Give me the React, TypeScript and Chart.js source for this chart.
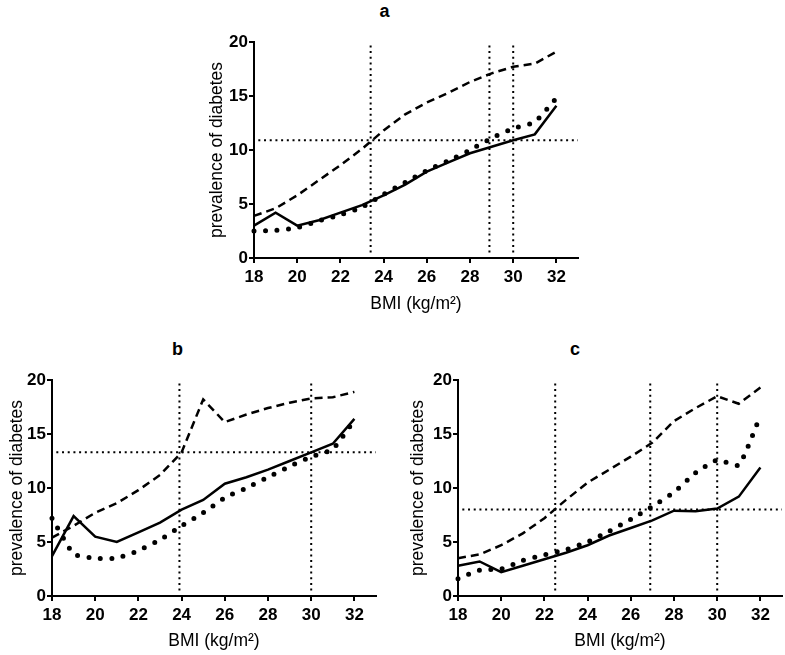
import React, { useEffect, useRef } from "react";
import { Chart, registerables } from "chart.js";

Chart.register(...registerables);

// ---- data ----
const bmi = [18, 19, 20, 21, 22, 23, 24, 25, 26, 27, 28, 29, 30, 31, 32];
const xTickValues = [18, 20, 22, 24, 26, 28, 30, 32];
const yTickValues = [0, 5, 10, 15, 20];

const aSolid = [3.0, 4.2, 3.0, 3.5, 4.2, 4.9, 5.8, 6.8, 8.0, 8.85, 9.7, 10.3, 10.9, 11.45, 14.1];
const aDotted = [2.5, 2.55, 2.8, 3.45, 4.0, 4.7, 5.9, 7.0, 8.1, 9.0, 10.0, 11.1, 12.0, 12.6, 14.8];
const aDashed = [3.9, 4.6, 5.8, 7.2, 8.6, 10.1, 11.8, 13.3, 14.4, 15.3, 16.3, 17.1, 17.7, 18.0, 19.1];
const aVLines = [23.4, 28.9, 30.0];
const aHLine = 10.9;

const bSolid = [3.7, 7.4, 5.5, 5.0, 5.9, 6.8, 8.0, 8.9, 10.4, 11.0, 11.7, 12.5, 13.3, 14.1, 16.4];
const bDotted = [7.2, 3.9, 3.5, 3.5, 4.2, 5.2, 6.5, 7.7, 9.1, 10.0, 11.0, 12.0, 12.9, 13.6, 16.3];
const bDashed = [5.4, 6.5, 7.7, 8.6, 9.8, 11.2, 13.3, 18.2, 16.1, 16.8, 17.4, 17.9, 18.3, 18.4, 18.9];
const bVLines = [23.9, 30.0];
const bHLine = 13.3;

const cSolid = [2.8, 3.2, 2.2, 2.8, 3.4, 4.0, 4.7, 5.6, 6.3, 7.0, 7.9, 7.85, 8.1, 9.2, 11.9];
const cDotted = [1.6, 2.4, 2.5, 3.3, 3.8, 4.3, 5.0, 6.0, 7.1, 8.3, 9.6, 11.4, 12.6, 12.1, 16.7];
const cDashed = [3.5, 3.85, 4.7, 5.8, 7.2, 8.9, 10.5, 11.7, 12.9, 14.2, 16.2, 17.4, 18.5, 17.8, 19.3];
const cVLines = [22.5, 26.9, 30.0];
const cHLine = 8.0;

const refVStart = 0.5;
const refVEnd = 20;
const refHStart = 18.2;
const refHEnd = 33;

const FONT = "'Liberation Sans', Arial, Helvetica, sans-serif";

type Spec = {
  title: string;
  solid: number[];
  dotted: number[];
  dashed: number[];
  vLines: number[];
  hLine: number;
  axisLeft: number;
  axisRight: number;
  axisTop: number;
  axisBottom: number;
  yTitleX: number;
  xTitleY: number;
  titleX: number;
  titleBaseline: number;
};

const specs: Spec[] = [
  {
    title: "a", solid: aSolid, dotted: aDotted, dashed: aDashed, vLines: aVLines, hLine: aHLine,
    axisLeft: 254, axisRight: 578, axisTop: 42, axisBottom: 258, yTitleX: 217, xTitleY: 304,
    titleX: 384.5, titleBaseline: 17,
  },
  {
    title: "b", solid: bSolid, dotted: bDotted, dashed: bDashed, vLines: bVLines, hLine: bHLine,
    axisLeft: 52, axisRight: 376, axisTop: 380, axisBottom: 596, yTitleX: 17.5, xTitleY: 641,
    titleX: 177.5, titleBaseline: 355,
  },
  {
    title: "c", solid: cSolid, dotted: cDotted, dashed: cDashed, vLines: cVLines, hLine: cHLine,
    axisLeft: 457.7, axisRight: 782, axisTop: 380, axisBottom: 596, yTitleX: 417.5, xTitleY: 641,
    titleX: 575, titleBaseline: 355,
  },
];

const TITLE_SIZE = 17.5;
const TITLE_LH = TITLE_SIZE * 1.2;

function Panel({ spec }: { spec: Spec }) {
  const ref = useRef<HTMLCanvasElement>(null);
  const left = spec.axisLeft - 110;
  const top = spec.axisTop - 15;
  const width = Math.round(spec.axisRight + 10 - left);
  const height = Math.round(spec.xTitleY + 18 - top);

  useEffect(() => {
    if (!ref.current) return;
    const yScaleLeft = spec.yTitleX - left - TITLE_LH / 2;
    const yW = 110 - yScaleLeft;
    const caBottom = spec.axisBottom - top;
    const xH = height - caBottom;
    const xTitlePad = height - TITLE_LH / 2 - (spec.xTitleY - top);

    const refDs: any[] = [];
    spec.vLines.forEach((v) => {
      refDs.push({
        data: [{ x: v, y: refVStart }, { x: v, y: refVEnd }],
        borderColor: "#000",
        borderWidth: 2,
        borderDash: [2, 3.7],
        pointRadius: 0,
        clip: false,
      });
    });
    refDs.push({
      data: [{ x: refHStart, y: spec.hLine }, { x: refHEnd, y: spec.hLine }],
      borderColor: "#000",
      borderWidth: 2,
      borderDash: [2, 3.7],
      pointRadius: 0,
      clip: false,
    });

    const toXY = (arr: number[]) => arr.map((y, i) => ({ x: bmi[i], y }));

    const chart = new Chart(ref.current, {
      type: "line",
      data: {
        datasets: [
          ...refDs,
          {
            data: toXY(spec.dashed),
            borderColor: "#000",
            borderWidth: 2.5,
            borderDash: [8, 5],
            pointRadius: 0,
            tension: 0,
            clip: false,
          },
          {
            data: toXY(spec.dotted),
            borderColor: "#000",
            borderWidth: 5,
            borderDash: [0, 11.5],
            borderCapStyle: "round",
            pointRadius: 0,
            tension: 0.15,
            clip: false,
          },
          {
            data: toXY(spec.solid),
            borderColor: "#000",
            borderWidth: 2.5,
            pointRadius: 0,
            tension: 0,
            clip: false,
          },
        ],
      },
      options: {
        responsive: false,
        animation: false,
        events: [],
        layout: { padding: { left: yScaleLeft, right: 10, top: 15, bottom: 0 } },
        plugins: { legend: { display: false }, tooltip: { enabled: false }, title: { display: false } },
        scales: {
          x: {
            type: "linear",
            min: 18,
            max: 33,
            afterBuildTicks: (s: any) => {
              s.ticks = xTickValues.map((v) => ({ value: v }));
            },
            afterFit: (s: any) => {
              s.height = xH;
            },
            grid: { drawOnChartArea: false, drawTicks: true, tickLength: 5, color: "#000", lineWidth: 2 },
            border: { display: true, color: "#000", width: 2 },
            ticks: {
              color: "#000",
              font: { family: FONT, size: 17, weight: "bold" },
              padding: 4,
              maxRotation: 0,
              autoSkip: false,
            },
            title: {
              display: true,
              text: "BMI (kg/m²)",
              color: "#000",
              font: { family: FONT, size: TITLE_SIZE },
              padding: { top: 0, bottom: xTitlePad },
            },
          },
          y: {
            type: "linear",
            min: 0,
            max: 20,
            afterBuildTicks: (s: any) => {
              s.ticks = yTickValues.map((v) => ({ value: v }));
            },
            afterFit: (s: any) => {
              s.width = yW;
            },
            grid: { drawOnChartArea: false, drawTicks: true, tickLength: 5, color: "#000", lineWidth: 2 },
            border: { display: true, color: "#000", width: 2 },
            ticks: {
              color: "#000",
              font: { family: FONT, size: 17, weight: "bold" },
              padding: 1,
            },
            title: {
              display: true,
              text: "prevalence of diabetes",
              color: "#000",
              font: { family: FONT, size: TITLE_SIZE },
              padding: { top: 0, bottom: 0 },
            },
          },
        },
      } as any,
    });
    return () => chart.destroy();
  }, []);

  return (
    <>
      <canvas
        ref={ref}
        width={width}
        height={height}
        style={{ position: "absolute", left, top, width, height }}
      />
      <div
        style={{
          position: "absolute",
          left: spec.titleX,
          top: spec.titleBaseline - 15.24,
          transform: "translateX(-50%)",
          fontFamily: FONT,
          fontWeight: "bold",
          fontSize: 18,
          lineHeight: "18px",
          color: "#000",
          whiteSpace: "nowrap",
        }}
      >
        {spec.title}
      </div>
    </>
  );
}

export default function App() {
  return (
    <div
      style={{
        position: "fixed",
        left: 0,
        top: 0,
        width: 785,
        height: 655,
        overflow: "hidden",
        background: "#fff",
      }}
    >
      {specs.map((s) => (
        <Panel key={s.title} spec={s} />
      ))}
    </div>
  );
}
